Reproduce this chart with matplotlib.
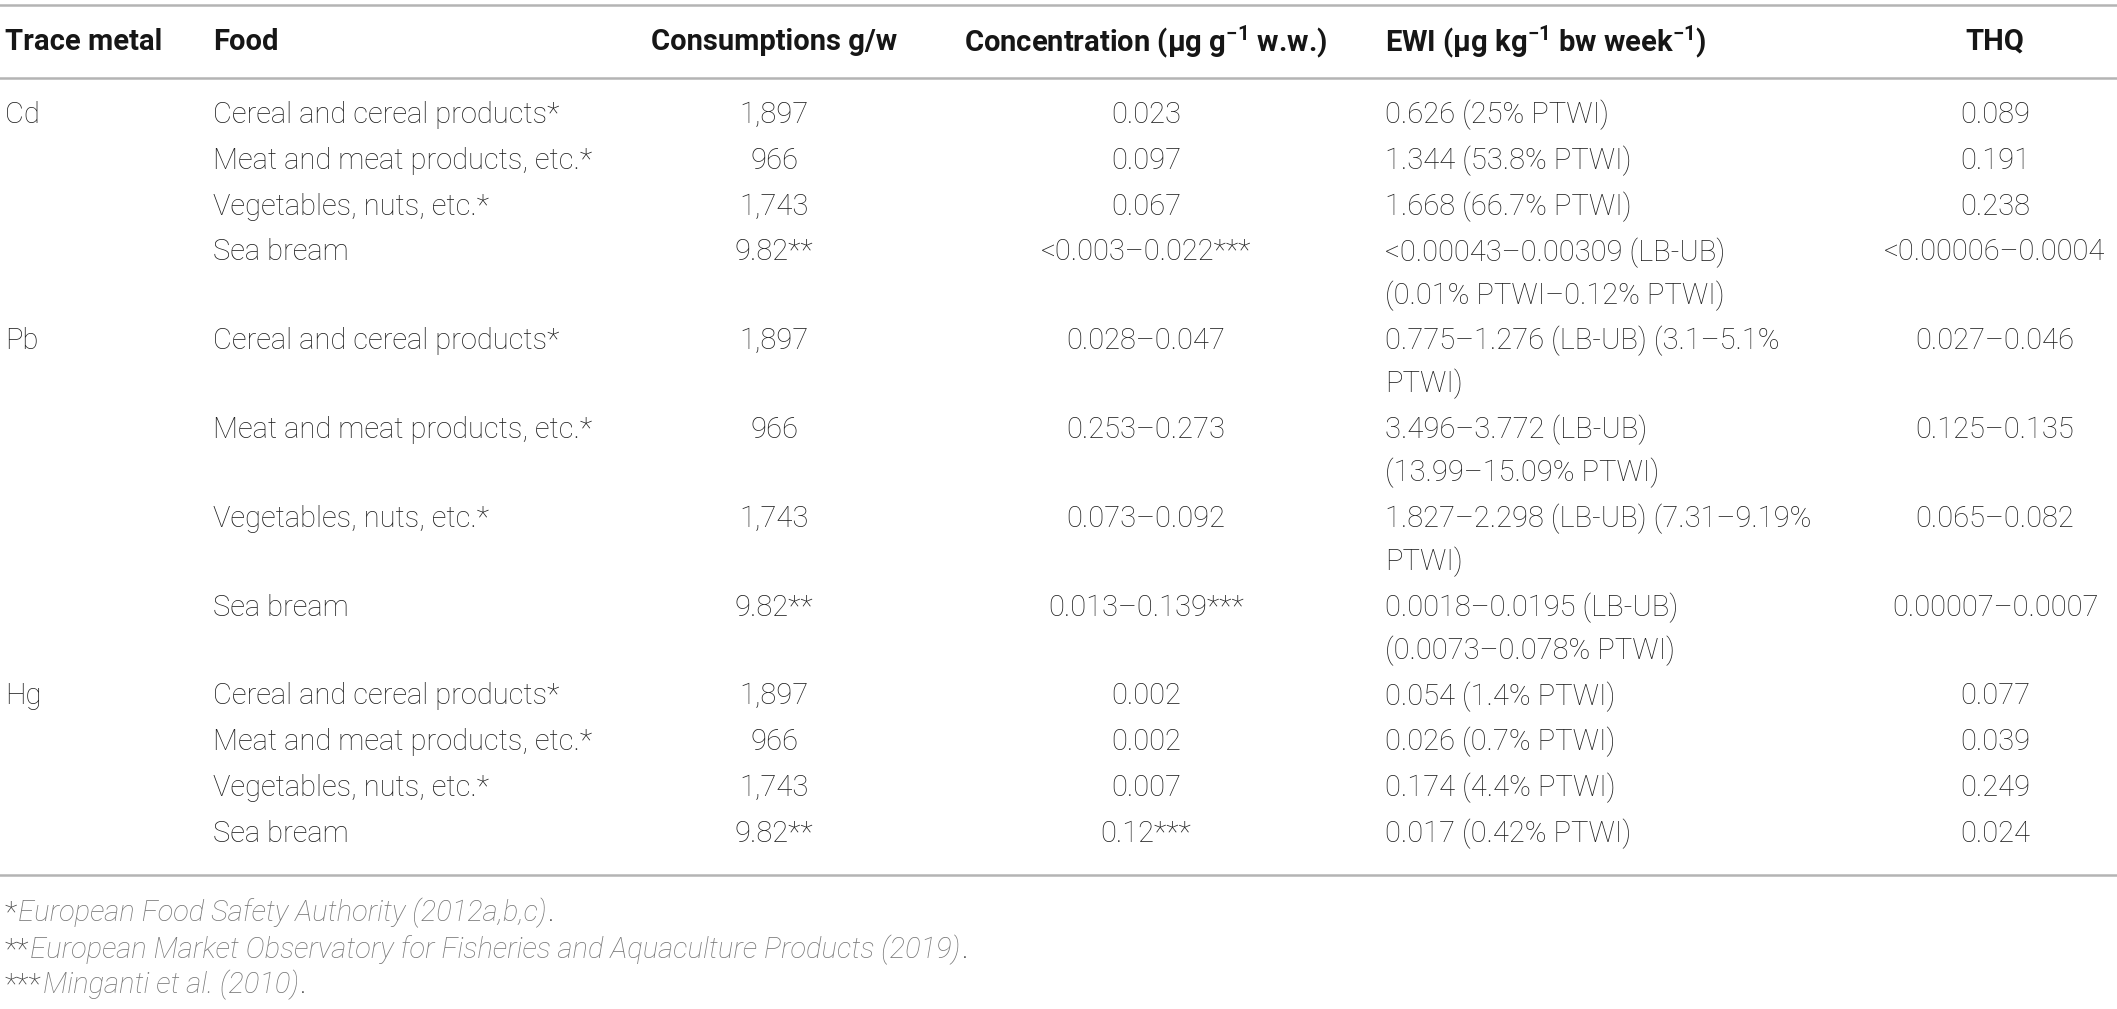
import matplotlib
matplotlib.use("Agg")
import matplotlib.pyplot as plt

# ---------------- data ----------------
headers = ["Trace metal", "Food", "Consumptions g/w",
           "Concentration (μg g$^{\\mathregular{-1}}$ w.w.)",
           "EWI (μg kg$^{\\mathregular{-1}}$ bw week$^{\\mathregular{-1}}$)", "THQ"]

metals = ["Cd", "", "", "", "Pb", "", "", "", "Hg", "", "", ""]
foods = ["Cereal and cereal products*", "Meat and meat products, etc.*",
         "Vegetables, nuts, etc.*", "Sea bream"] * 3
consumptions = ["1,897", "966", "1,743", "9.82**"] * 3
concentrations = ["0.023", "0.097", "0.067", "<0.003–0.022***",
                  "0.028–0.047", "0.253–0.273", "0.073–0.092", "0.013–0.139***",
                  "0.002", "0.002", "0.007", "0.12***"]
ewi = ["0.626 (25% PTWI)", "1.344 (53.8% PTWI)", "1.668 (66.7% PTWI)",
       "<0.00043–0.00309 (LB-UB)\n(0.01% PTWI–0.12% PTWI)",
       "0.775–1.276 (LB-UB) (3.1–5.1%\nPTWI)",
       "3.496–3.772 (LB-UB)\n(13.99–15.09% PTWI)",
       "1.827–2.298 (LB-UB) (7.31–9.19%\nPTWI)",
       "0.0018–0.0195 (LB-UB)\n(0.0073–0.078% PTWI)",
       "0.054 (1.4% PTWI)", "0.026 (0.7% PTWI)", "0.174 (4.4% PTWI)",
       "0.017 (0.42% PTWI)"]
thq = ["0.089", "0.191", "0.238", "<0.00006–0.0004",
       "0.027–0.046", "0.125–0.135", "0.065–0.082", "0.00007–0.0007",
       "0.077", "0.039", "0.249", "0.024"]

footnote_marks = ["*", "**", "***"]
footnote_refs = ["European Food Safety Authority (2012a,b,c)",
                 "European Market Observatory for Fisheries and Aquaculture Products (2019)",
                 "Minganti et al. (2010)"]

# ---------------- style ----------------
W, H = 2117, 1009
FONT = ["Roboto", "DejaVu Sans"]
TXT = "#1f1f1f"
GRAY_TXT = "#767676"
LINE = "#b4b4b4"
FS = 21
plt.rcParams["font.family"] = FONT

fig = plt.figure(figsize=(W / 100, H / 100), dpi=100)
ax = fig.add_axes([0, 0, 1, 1])
ax.set_xlim(0, W)
ax.set_ylim(H, 0)
ax.axis("off")

# column anchors (x, ha)
cols = [(5, "left"), (213, "left"), (774, "center"), (1146, "center"),
        (1385, "left"), (1995, "center")]

y_top_line = 5
y_header = 42
y_header_line = 78
y_first = 115
row_pitch = 45.8
inner_pitch = 43.0

ax.axhline(y_top_line, color=LINE, lw=1.8)
ax.axhline(y_header_line, color=LINE, lw=1.8)

for (x, ha), h in zip(cols, headers):
    ax.text(x, y_header, h, ha=ha, va="center", fontsize=FS, fontweight="bold",
            color="#161616")

y = y_first
last_y = y
for i in range(len(foods)):
    vals = [metals[i], foods[i], consumptions[i], concentrations[i], ewi[i], thq[i]]
    nlines = ewi[i].count("\n") + 1
    for (x, ha), v in zip(cols, vals):
        for j, part in enumerate(v.split("\n")):
            ax.text(x, y + j * inner_pitch, part, ha=ha, va="center", fontsize=FS,
                    fontweight="light", color=TXT)
    last_y = y + (nlines - 1) * inner_pitch
    y = last_y + row_pitch

y_bottom_line = last_y + 41
ax.axhline(y_bottom_line, color=LINE, lw=1.8)

fig.canvas.draw()
renderer = fig.canvas.get_renderer()
inv = ax.transData.inverted()
fy = [913, 950, 985]
for yy, m, ref in zip(fy, footnote_marks, footnote_refs):
    t1 = ax.text(5, yy, m, ha="left", va="center", fontsize=FS, fontweight="light",
                 color="#444444")
    bb = t1.get_window_extent(renderer)
    x1 = inv.transform((bb.x1, 0))[0]
    t2 = ax.text(x1 + 1, yy, ref, ha="left", va="center", fontsize=FS,
                 fontweight="light", style="italic", color=GRAY_TXT)
    bb2 = t2.get_window_extent(renderer)
    x2 = inv.transform((bb2.x1, 0))[0]
    ax.text(x2 + 1, yy, ".", ha="left", va="center", fontsize=FS,
            fontweight="light", color=TXT)

fig.savefig("out.png", dpi=100)
